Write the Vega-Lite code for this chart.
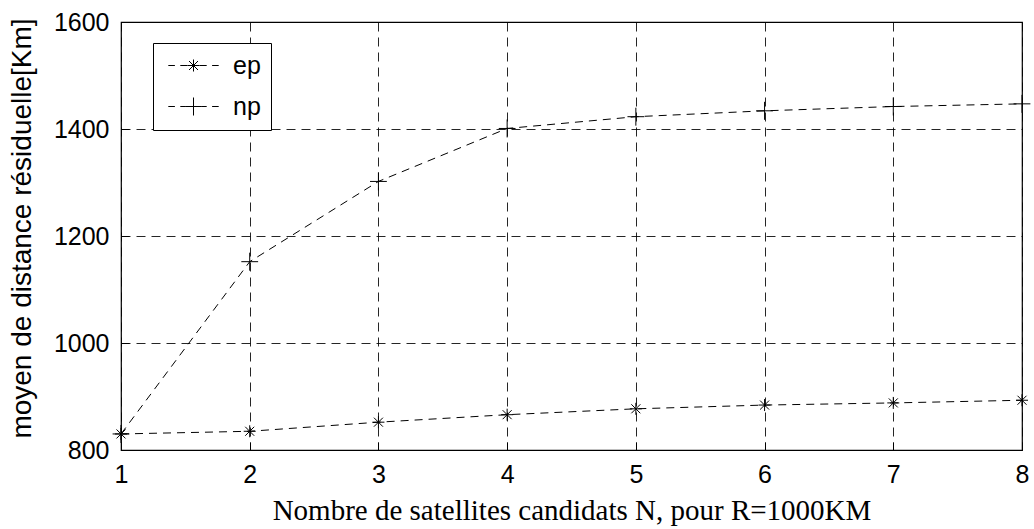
{
  "$schema": "https://vega.github.io/schema/vega-lite/v6.json",
  "width": 901,
  "height": 428,
  "autosize": {"type": "none"},
  "padding": {"left": 121, "top": 22, "right": 12, "bottom": 79},
  "background": "white",
  "config": {
    "view": {"stroke": "black", "strokeWidth": 1.2},
    "axis": {
      "domain": false,
      "ticks": true,
      "tickColor": "black",
      "tickSize": -8,
      "tickWidth": 1,
      "grid": true,
      "gridColor": "black",
      "gridDash": [9, 6],
      "gridWidth": 1,
      "gridOpacity": 0.85,
      "labelFont": "Liberation Sans",
      "labelFontSize": 25,
      "labelColor": "black",
      "titleColor": "black",
      "titleFontWeight": "normal"
    }
  },
  "data": {
    "values": [
      {"N": 1, "dist": 830, "series": "ep"},
      {"N": 2, "dist": 835, "series": "ep"},
      {"N": 3, "dist": 852, "series": "ep"},
      {"N": 4, "dist": 866, "series": "ep"},
      {"N": 5, "dist": 877, "series": "ep"},
      {"N": 6, "dist": 884, "series": "ep"},
      {"N": 7, "dist": 888, "series": "ep"},
      {"N": 8, "dist": 893, "series": "ep"},
      {"N": 1, "dist": 830, "series": "np"},
      {"N": 2, "dist": 1152, "series": "np"},
      {"N": 3, "dist": 1302, "series": "np"},
      {"N": 4, "dist": 1401, "series": "np"},
      {"N": 5, "dist": 1423, "series": "np"},
      {"N": 6, "dist": 1434, "series": "np"},
      {"N": 7, "dist": 1442, "series": "np"},
      {"N": 8, "dist": 1447, "series": "np"}
    ]
  },
  "encoding": {
    "x": {
      "field": "N",
      "type": "quantitative",
      "scale": {"domain": [1, 8], "nice": false, "zero": false},
      "axis": {
        "values": [1, 2, 3, 4, 5, 6, 7, 8],
        "format": "d",
        "labelPadding": 20,
        "labelFlush": false,
        "title": "Nombre de satellites candidats N, pour R=1000KM",
        "titleFont": "Liberation Serif",
        "titleFontSize": 29,
        "titlePadding": 9
      }
    },
    "y": {
      "field": "dist",
      "type": "quantitative",
      "scale": {"domain": [800, 1600], "nice": false, "zero": false},
      "axis": {
        "values": [800, 1000, 1200, 1400, 1600],
        "format": "d",
        "labelPadding": 20,
        "labelFlush": false,
        "title": "moyen de distance résiduelle[Km]",
        "titleFont": "Liberation Sans",
        "titleFontSize": 28,
        "titlePadding": 17,
        "titleY": 206
      }
    }
  },
  "resolve": {"scale": {"shape": "independent"}, "legend": {"shape": "independent"}},
  "layer": [
    {
      "mark": {"type": "line", "stroke": "black", "strokeWidth": 1, "strokeDash": [8, 6]},
      "encoding": {"detail": {"field": "series"}}
    },
    {
      "mark": {"type": "point", "filled": false, "stroke": "black", "strokeWidth": 1, "opacity": 1, "size": 144},
      "encoding": {
        "shape": {
          "field": "series",
          "type": "nominal",
          "scale": {
            "domain": ["ep", "np"],
            "range": [
              "M-1,0H1M0,-1V1M-0.75,-0.75L0.75,0.75M-0.75,0.75L0.75,-0.75",
              "M-1.4,0H1.4M0,-1.5V1.5"
            ]
          },
          "legend": null
        }
      }
    },
    {
      "transform": [{"filter": "datum.N > 100"}],
      "mark": {"type": "point", "filled": false, "stroke": "black", "strokeWidth": 1, "opacity": 1, "size": 144},
      "encoding": {
        "shape": {
          "field": "series",
          "type": "nominal",
          "scale": {
            "domain": ["ep", "np"],
            "range": [
              "M-4.2,0H-3.1M-2.2,0H-1M1,0H2.2M3.1,0H4.2M-1,0H1M0,-1V1M-0.75,-0.75L0.75,0.75M-0.75,0.75L0.75,-0.75",
              "M-4.2,0H-3.1M-2.2,0H-1.4M1.4,0H2.2M3.1,0H4.2M-1.4,0H1.4M0,-1.5V1.5"
            ]
          },
          "legend": {
            "title": null,
            "orient": "none",
            "legendX": 32,
            "legendY": 21,
            "strokeColor": "black",
            "fillColor": "white",
            "padding": 10,
            "symbolOffset": 18,
            "labelOffset": 27,
            "rowPadding": 15,
            "symbolSize": 144,
            "symbolOpacity": 1,
            "symbolStrokeColor": "black",
            "symbolStrokeWidth": 1,
            "labelFont": "Liberation Sans",
            "labelFontSize": 25,
            "labelColor": "black",
            "labelExpr": "datum.label + ' '"
          }
        }
      }
    }
  ]
}
